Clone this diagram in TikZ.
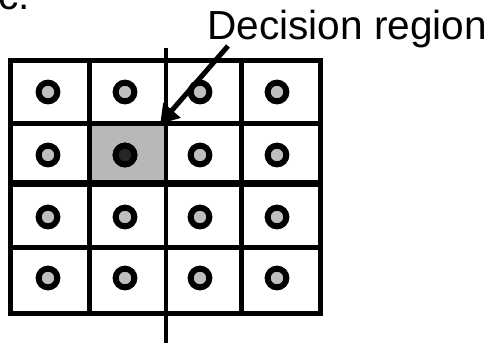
\documentclass[tikz,border=0pt]{standalone}
\usepackage{fontspec}
\setmainfont{Liberation Sans}
\usetikzlibrary{arrows.meta}
\tikzstyle{label} = [inner sep=0pt, anchor=base west, font=\fontsize{40.6}{48}\selectfont]
\tikzstyle{grid} = [line width=5pt, black]
\tikzstyle{dot} = [circle, minimum size=18.7pt, inner sep=0pt, line width=6pt, draw=black, fill=black!25]
\tikzstyle{pointer} = [line width=5pt, -{Triangle[length=18pt,width=22pt]}]

\begin{document}
\begin{tikzpicture}[x=1pt, y=-1pt]
      \useasboundingbox (0,0) rectangle (493,343);
      \node (tag)[label] at (-2,9) {c.};
      \node (title)[label] at (207,39.5) {Decision region};
      % shaded decision cell
      \node (dec)[rectangle, minimum width=77pt, minimum height=60pt, inner sep=0pt, fill=black!28] at (127.5,153) {};
      % grid
      \draw [grid] (10,60) rectangle (320,313);
      \draw [grid] (89,60) -- (89,313);
      \draw [grid] (241,60) -- (241,313);
      \draw [grid] (10,123) -- (320,123);
      \draw [grid] (10,247) -- (320,247);
      \draw [line width=7pt] (10,183) -- (320,183);
      \draw [line width=4.5pt] (166,48) -- (166,343);
      % reference points
      \foreach \x in {48,125,200,277}
        \foreach \y in {92,155,217,278}
          \node [dot] at (\x,\y) {};
      \node (sel)[dot, fill=black!85] at (125,155) {};
      % arrow to the decision region
      \coordinate (tail) at (228,46);
      \draw [pointer] (tail) -- ([xshift=-6pt,yshift=-1pt]dec.north east);
    \end{tikzpicture}
\end{document}
